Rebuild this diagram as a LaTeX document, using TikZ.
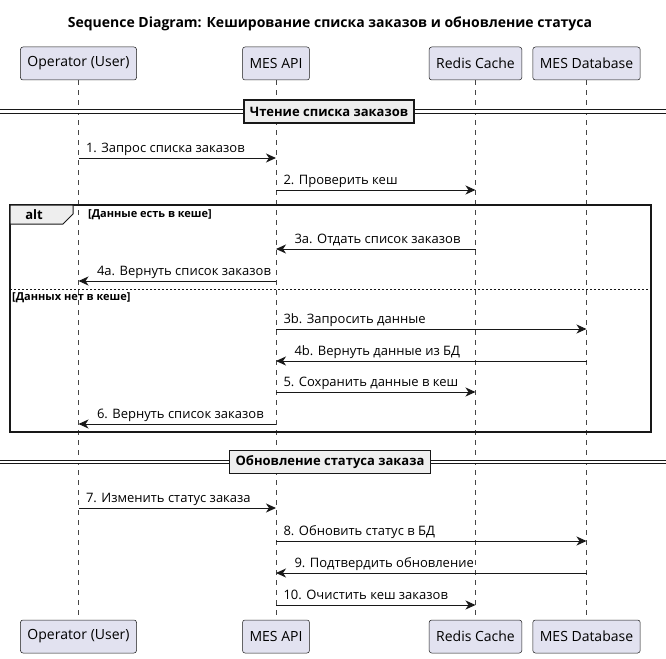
\documentclass[tikz,border=0pt]{standalone}
\usepackage{fontspec}
\setmainfont{Open Sans}
\usetikzlibrary{positioning, arrows.meta, calc}
\definecolor{partfill}{HTML}{E2E2F0}
\definecolor{linecol}{HTML}{181818}
\definecolor{grpfill}{HTML}{EEEEEE}

\begin{document}
\begin{tikzpicture}[x=1pt, y=-1pt,
    part/.style={draw=linecol, fill=partfill, rounded corners=2.5pt, line width=0.5pt,
      minimum height=33pt, inner xsep=7pt, font=\fontsize{14}{16}\selectfont},
    life/.style={draw=linecol!80, line width=0.5pt, dash pattern=on 5pt off 5pt},
    msg/.style={draw=linecol, line width=1pt, -{Stealth[length=10pt,width=9pt,inset=3pt]}},
    lbl/.style={anchor=base west, inner sep=0pt, font=\fontsize{13}{15}\selectfont},
    sepbox/.style={draw=linecol, fill=grpfill, line width=1.5pt, minimum height=23pt,
      inner xsep=6pt, font=\bfseries\fontsize{13}{15}\selectfont},
    sepline/.style={draw=linecol, double=white, double distance=2.2pt, line width=1pt},
    guard/.style={anchor=west, inner sep=0pt, font=\bfseries\fontsize{11}{13}\selectfont}]

  \useasboundingbox (0,0) rectangle (666,658);

  \node[font=\bfseries\fontsize{14}{16}\selectfont] (title) at (330,24)
    {Sequence Diagram: Кеширование списка заказов и обновление статуса};

  \node[part] (opT) at (78.5,63.5) {Operator (User)};
  \node[part] (apiT) at (276,63.5) {MES API};
  \node[part] (redT) at (475.5,63.5) {Redis Cache};
  \node[part] (dbT) at (586.5,63.5) {MES Database};
  \node[part] (opB) at (78.5,636.5) {Operator (User)};
  \node[part] (apiB) at (276,636.5) {MES API};
  \node[part] (redB) at (475.5,636.5) {Redis Cache};
  \node[part] (dbB) at (586.5,636.5) {MES Database};

  \foreach \a in {op,api,red,db}
    \draw[life] (\a T.south) -- (\a B.north);

  \draw[sepline] (0,111.5) -- (666,111.5);
  \node[sepbox] (read) at (329,111.5) {Чтение списка заказов};
  \draw[sepline] (0,462) -- (666,462);
  \node[sepbox] (update) at (330,462) {Обновление статуса заказа};

  \draw[linecol, line width=1.5pt] (10,205) rectangle (651,432);
  \draw[linecol, line width=1pt, fill=grpfill]
    (10,205) -- (73,205) -- (73,214) -- (63,224) -- (10,224) -- cycle;
  \node[font=\bfseries\fontsize{13}{15}\selectfont] (alt) at (34,214.5) {alt};
  \node[guard] (g1) at (88,215) {[Данные есть в кеше]};
  \draw[linecol, line width=0.8pt, dash pattern=on 2pt off 2pt] (10,289) -- (651,289);
  \node[guard] (g2) at (12,298) {[Данных нет в кеше]};

  \foreach \n/\y/\a/\b/\p/\s/\t in {
      1/158/op/api/0/7/{1. Запрос списка заказов},
      2/190/api/red/0/7/{2. Проверить кеш},
      3/249/red/api/1/18/{3a. Отдать список заказов},
      4/281/api/op/1/18/{4a. Вернуть список заказов},
      5/329/api/db/0/7/{3b. Запросить данные},
      6/361/db/api/1/18/{4b. Вернуть данные из БД},
      7/392/api/red/0/7/{5. Сохранить данные в кеш},
      8/424/api/op/1/18/{6. Вернуть список заказов},
      9/508/op/api/0/7/{7. Изменить статус заказа},
      10/541/api/db/0/7/{8. Обновить статус в БД},
      11/573/db/api/1/18/{9. Подтвердить обновление},
      12/605/api/red/0/7/{10. Очистить кеш заказов}} {
    \coordinate (r\n) at (0,\y);
    \draw[msg] (\a T |- r\n) -- (\b T |- r\n)
      node[lbl, pos=\p, xshift=\s, yshift=5.5] {\t};
  }
\end{tikzpicture}
\end{document}
